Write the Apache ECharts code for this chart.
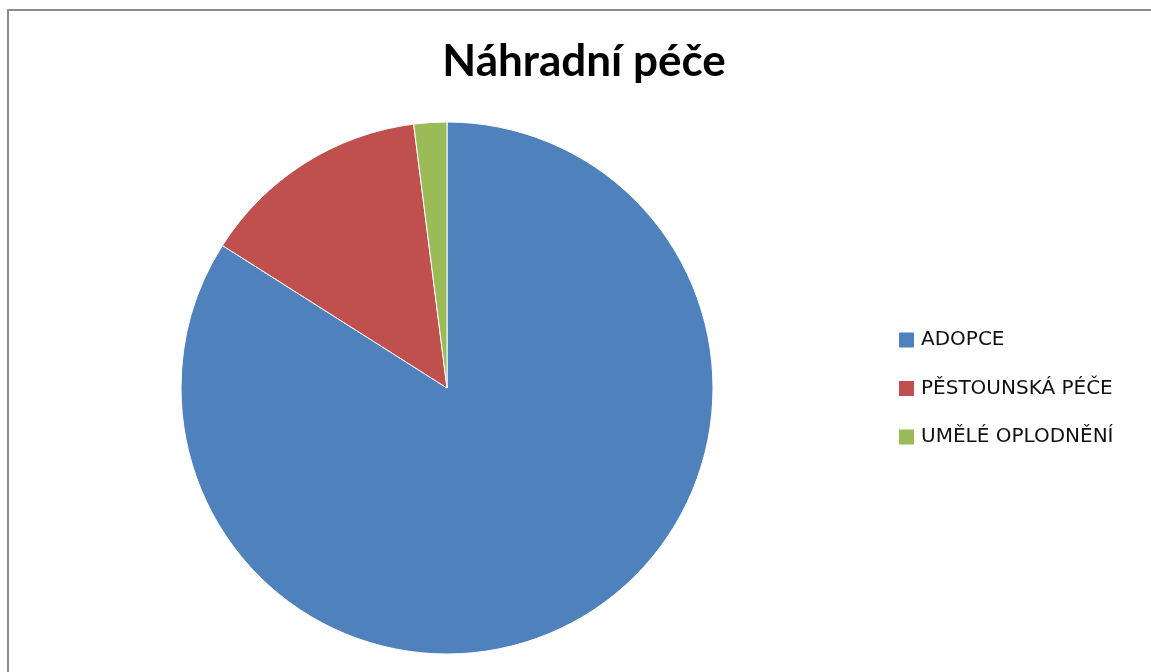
<!DOCTYPE html>
<html>
<head>
<meta charset="utf-8">
<script src="https://cdn.jsdelivr.net/npm/echarts@6/dist/echarts.min.js"></script>
<style>
  html, body { margin: 0; padding: 0; background: #fff; }
  #chart { width: 1151px; height: 672px; }
</style>
</head>
<body>
<div id="chart"></div>
<script>
// kategorie a hodnoty (podíl v %)
var categories = ["ADOPCE", "PĚSTOUNSKÁ PÉČE", "UMĚLÉ OPLODNĚNÍ"];
var values = [84, 14, 2];
var colors = ["#4f81bd", "#c0504d", "#9bbb59"];

var chart = echarts.init(document.getElementById("chart"));

var option = {
    backgroundColor: "#ffffff",
    animation: false,
    title: {
        text: "Náhradní péče",
        left: 579,
        top: 35,
        textAlign: "center",
        textStyle: {
            fontFamily: "Lato",
            fontWeight: "bold",
            fontSize: 44,
            color: "#000000",
        },
    },
    //ohraničení grafu
    graphic: [
        {
            type: "rect",
            shape: { x: 8, y: 10, width: 1200, height: 700 },
            style: { fill: "none", stroke: "#8c8c8c", lineWidth: 2 },
            silent: true,
        },
    ],
    legend: {
        orient: "vertical",
        left: 899,
        top: 330,
        padding: 0,
        itemWidth: 15,
        itemHeight: 15,
        itemGap: 28.5,
        icon: "rect",
        itemStyle: { borderWidth: 0 },
        data: categories,
        textStyle: {
            fontFamily: "DejaVu Sans",
            fontSize: 20,
            lineHeight: 20,
            color: "#111111",
            padding: [0, 0, 0, 2],
        },
    },
    color: colors,
    series: [
        {
            type: "pie",
            center: [447, 388],
            radius: 266,
            startAngle: 90,
            clockwise: true,
            label: { show: false },
            labelLine: { show: false },
            itemStyle: { borderColor: "#ffffff", borderWidth: 1 },
            emphasis: { disabled: true },
            data: categories.map(function (name, i) {
                return { name: name, value: values[i] };
            }),
        },
    ],
};
chart.setOption(option);
</script>
</body>
</html>
